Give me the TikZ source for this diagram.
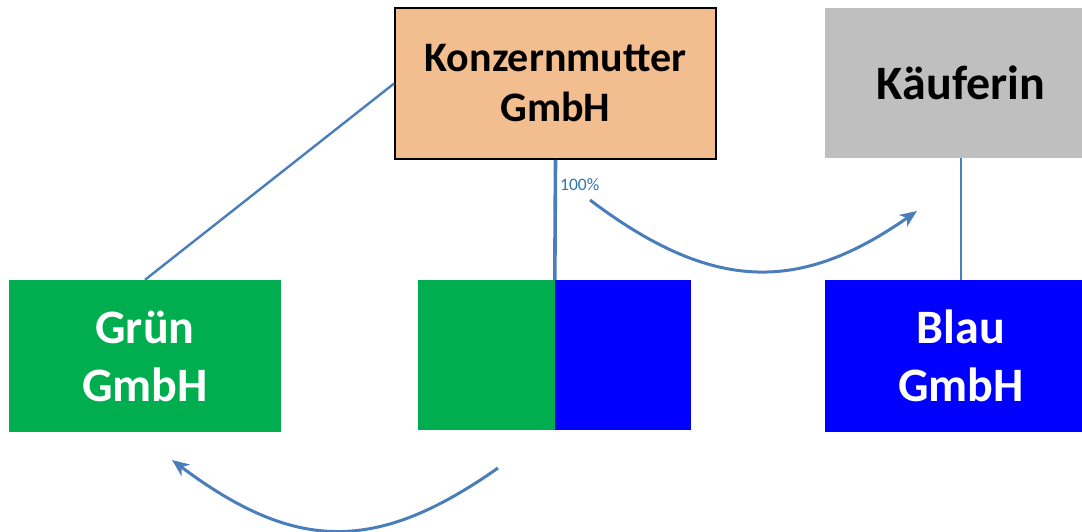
\documentclass[tikz,border=0pt]{standalone}
\usepackage{fontspec}
\setmainfont{Carlito}
\usetikzlibrary{arrows.meta}
\definecolor{linkblue}{HTML}{4A7EBB}
\definecolor{labelblue}{HTML}{2E75B6}
\definecolor{peach}{HTML}{F2BE90}
\definecolor{greybox}{HTML}{BFBFBF}
\definecolor{greenbox}{HTML}{00AD4F}
\definecolor{bluebox}{HTML}{0000FF}
\tikzset{
  company/.style={rectangle, inner sep=0pt, align=center, font=\bfseries\fontsize{48}{58}\selectfont},
  link/.style={draw=linkblue, line width=2.4pt},
  move/.style={draw=linkblue, line width=3pt, -{Stealth[length=17pt, width=14pt, inset=5pt]}},
}
\begin{document}
\begin{tikzpicture}[x=1pt, y=-1pt]
\useasboundingbox (0,0) rectangle (1082,532);
\clip (0,0) rectangle (1082,532);

% top row: parent company and buyer
\node[company, draw=black, line width=1.8pt, fill=peach, minimum width=321pt, minimum height=151pt,
      font=\bfseries\fontsize{42}{50}\selectfont] (mother) at (555.5,83.5) {Konzernmutter\\GmbH};
\node[company, fill=greybox, minimum width=272pt, minimum height=150pt] (buyer) at (961,83) {Käuferin};

% bottom row: subsidiaries
\node[company, fill=greenbox, text=white, minimum width=272pt, minimum height=152pt] (gruen) at (145,356) {Grün\\GmbH};
\node[company, fill=greenbox, minimum width=137pt, minimum height=150pt] (splitg) at (486.5,355) {};
\node[company, fill=bluebox, minimum width=136pt, minimum height=150pt] (splitb) at (623,355) {};
\node[company, fill=bluebox, text=white, minimum width=272pt, minimum height=152pt] (blau) at (961,356) {Blau\\GmbH};

% ownership lines
\draw[link] (mother.west) -- (gruen.north);
\draw[link, line width=3.6pt] (mother.south) -- (splitb.north west);
\draw[link] (buyer.south) -- (blau.north);
\node[anchor=west, inner sep=0pt, text=labelblue, font=\fontsize{17.5}{20}\selectfont] (share) at (560,185) {100\%};

% transfers
\coordinate (sellfrom) at (590,200);
\coordinate (sellto) at (917,211);
\coordinate (backfrom) at (498,468);
\coordinate (backto) at (172,460);
\draw[move] (sellfrom) .. controls (713,293) and (800,293) .. (sellto);
\draw[move] (backfrom) .. controls (377,553) and (296,553) .. (backto);
\end{tikzpicture}
\end{document}
